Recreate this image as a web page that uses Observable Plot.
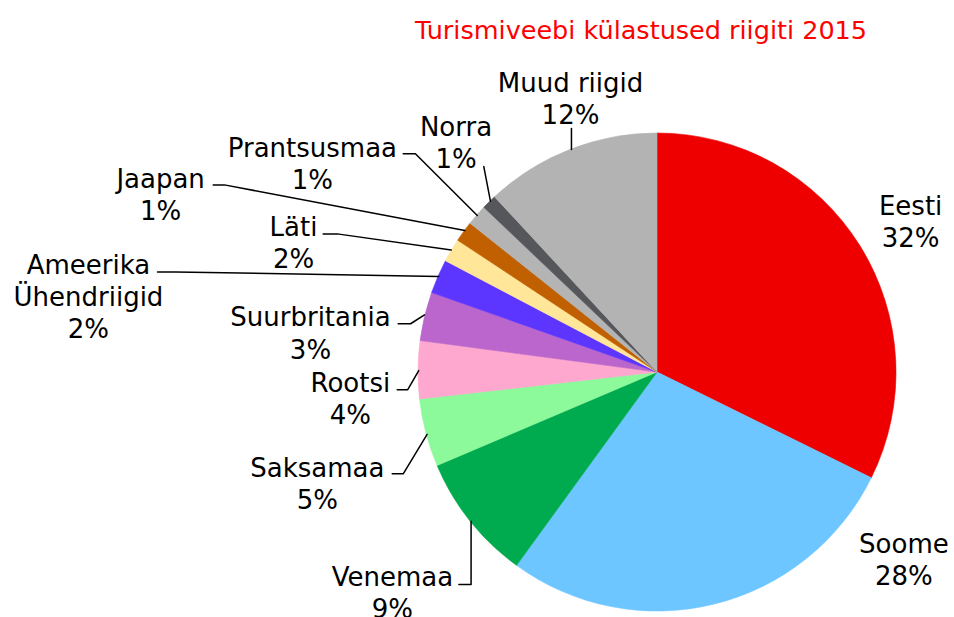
<!DOCTYPE html>
<html>
<head>
<meta charset="utf-8">
<script src="https://cdn.jsdelivr.net/npm/d3@7"></script>
<script src="https://cdn.jsdelivr.net/npm/@observablehq/plot@0.6"></script>
<style>
  html, body { margin: 0; padding: 0; background: #fff; }
  #wrap { width: 954px; }
  #title { position: relative; height: 50px; width: 954px; font-family: "DejaVu Sans", Verdana, sans-serif; }
  #title span { position: absolute; left: 415px; top: 15px; font-size: 25.5px; line-height: 30px; color: #ff0000; white-space: nowrap; }
  svg { display: block; }
</style>
</head>
<body>
<div id="wrap">
  <div id="title"><span>Turismiveebi külastused riigiti 2015</span></div>
  <div id="chart"></div>
</div>
<script>
// ---- data ----
const countries = ["Eesti", "Soome", "Venemaa", "Saksamaa", "Rootsi", "Suurbritania",
  "Ameerika Ühendriigid", "Läti", "Jaapan", "Prantsusmaa", "Norra", "Muud riigid"];
const shares = [32.3, 27.7, 8.6, 4.6, 3.9, 3.3, 2.3, 1.6, 1.4, 1.4, 1.0, 11.9];
const labelNames = ["Eesti", "Soome", "Venemaa", "Saksamaa", "Rootsi", "Suurbritania",
  "Ameerika\nÜhendriigid", "Läti", "Jaapan", "Prantsusmaa", "Norra", "Muud riigid"];

// ---- styles ----
const colors = ["#ef0000", "#6dc6ff", "#00aa4e", "#8cf99a", "#ffa8cf", "#bb66cc",
  "#5c36ff", "#ffe699", "#c06000", "#b4b4b4", "#55575a", "#b3b3b3"];

// ---- label layout (in pie-radius units, centre = 0,0) ----
const labelPos = [
  [1.059, 0.636], [1.031, -0.778], [-1.109, -0.916], [-1.423, -0.462],
  [-1.285, -0.107], [-1.452, 0.169], [-2.381, 0.322], [-1.523, 0.546],
  [-2.079, 0.749], [-1.444, 0.879], [-0.843, 0.967], [-0.364, 1.149]
];
const leaders = [
  null, null,
  [[-0.831, -0.887], [-0.780, -0.887], [-0.780, -0.622]],
  [[-1.110, -0.424], [-1.064, -0.424], [-0.964, -0.259]],
  [[-1.089, -0.072], [-1.045, -0.072], [-0.999, 0.008]],
  [[-1.085, 0.204], [-1.033, 0.204], [-0.975, 0.241]],
  [[-2.092, 0.421], [-2.017, 0.421], [-0.915, 0.402]],
  [[-1.399, 0.580], [-1.340, 0.580], [-0.863, 0.513]],
  [[-1.859, 0.785], [-1.812, 0.785], [-0.806, 0.594]],
  [[-1.064, 0.915], [-1.013, 0.915], [-0.754, 0.657]],
  [[-0.727, 0.862], [-0.699, 0.717]],
  [[-0.360, 1.021], [-0.360, 0.933]]
];

const slices = countries.map((c, i) => ({country: c, value: shares[i], color: colors[i]}));
const labels = countries.map((c, i) => ({
  x: labelPos[i][0], y: labelPos[i][1],
  text: labelNames[i] + "\n" + Math.round(shares[i]) + "%"
}));
const leaderPts = leaders.flatMap((pts, i) => pts ? pts.map(p => ({x: p[0], y: p[1], k: countries[i]})) : []);

function pieMark(index, scales) {
  const cx = scales.x(0), cy = scales.y(0), R = scales.x(1) - scales.x(0);
  const arcs = d3.pie().sort(null).value(d => d.value)(slices);
  const arc = d3.arc().innerRadius(0).outerRadius(R);
  const g = d3.create("svg:g").attr("transform", `translate(${cx},${cy})`);
  g.selectAll("path").data(arcs).join("path")
    .attr("d", arc)
    .attr("fill", d => d.data.color)
    .attr("stroke", d => d.data.color)
    .attr("stroke-width", 0.6)
    .attr("stroke-linejoin", "round");
  return g.node();
}

const chart = Plot.plot({
  width: 954,
  height: 567,
  margin: 0,
  style: {fontFamily: "'DejaVu Sans', Verdana, sans-serif", background: "#fff"},
  x: {domain: [-1, 1], range: [418, 896], axis: null},
  y: {domain: [-1, 1], range: [561, 83], axis: null},
  marks: [
    pieMark,
    Plot.line(leaderPts, {x: "x", y: "y", z: "k", stroke: "#000", strokeWidth: 1.5, curve: "linear"}),
    Plot.text(labels, {x: "x", y: "y", text: "text", fontSize: 26, lineHeight: 1.24,
      lineAnchor: "middle", textAnchor: "middle", fill: "#000"})
  ]
});
document.getElementById("chart").appendChild(chart);
</script>
</body>
</html>
